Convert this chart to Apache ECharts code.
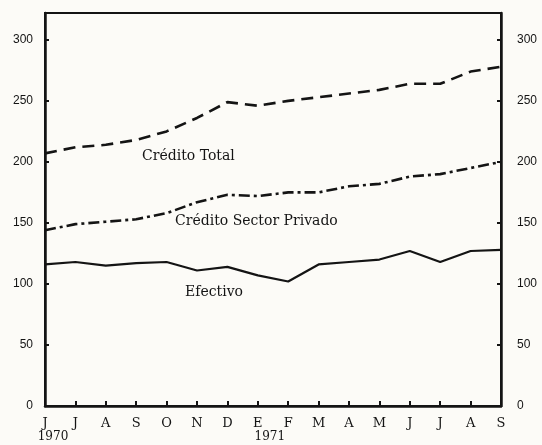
<!DOCTYPE html>
<html>
<head>
<meta charset="utf-8">
<script src="https://cdn.jsdelivr.net/npm/echarts@6/dist/echarts.min.js"></script>
<style>
  html, body { margin: 0; padding: 0; background: #fcfbf7; }
  #chart { width: 542px; height: 445px; }
</style>
</head>
<body>
<div id="chart"></div>
<script>
// meses junio 1970 - septiembre 1971
var months = ['Jun70', 'Jul70', 'Ago70', 'Sep70', 'Oct70', 'Nov70', 'Dic70', 'Ene71',
              'Feb71', 'Mar71', 'Abr71', 'May71', 'Jun71', 'Jul71', 'Ago71', 'Sep71'];
var monthLabels = ['J', 'J', 'A', 'S', 'O', 'N', 'D', 'E', 'F', 'M', 'A', 'M', 'J', 'J', 'A', 'S'];
var yearLabels = ['1970', '', '', '', '', '', '', '1971', '', '', '', '', '', '', '', ''];
var yTicks = [0, 50, 100, 150, 200, 250, 300];

var creditoTotal = [207, 212, 214, 218, 225, 236, 249, 246, 250, 253, 256, 259, 264, 264, 274, 278];
var creditoPrivado = [144, 149, 151, 153, 158, 167, 173, 172, 175, 175, 180, 182, 188, 190, 195, 200];
var efectivo = [116, 118, 115, 117, 118, 111, 114, 107, 102, 116, 118, 120, 127, 118, 127, 128];

var chart = echarts.init(document.getElementById('chart'));

var ink = '#141414';
var serif = '"DejaVu Serif"';

function yLabel(v) {
    return yTicks.indexOf(v) >= 0 ? String(v) : '';
}

var option = {
    backgroundColor: '#fcfbf7',
    animation: false,
    grid: {
        left: 45, right: 41, top: 13, bottom: 39,
        show: true,
        borderColor: ink,
        borderWidth: 2,
        backgroundColor: 'transparent'
    },
    xAxis: {
        type: 'category',
        data: months,
        boundaryGap: false,
        axisLine: { lineStyle: { color: ink, width: 2.5 } },
        axisTick: { inside: true, length: 5, interval: 0, lineStyle: { color: ink, width: 2 } },
        splitLine: { show: false },
        axisLabel: {
            interval: 0,
            margin: 11,
            color: ink,
            fontFamily: 'DejaVu Serif',
            fontSize: 13,
            lineHeight: 13,
            formatter: function (v, i) {
                var y = yearLabels[i];
                if (!y) return monthLabels[i];
                return monthLabels[i] + '\n{' + (i === 0 ? 'ya' : 'yb') + '|' + y + '}';
            },
            rich: {
                ya: { fontFamily: 'DejaVu Serif', fontSize: 12, lineHeight: 13, color: ink, padding: [0, 0, 0, 16] },
                yb: { fontFamily: 'DejaVu Serif', fontSize: 12, lineHeight: 13, color: ink, padding: [0, 0, 0, 24] }
            }
        }
    },
    yAxis: [
        {
            type: 'value',
            min: 0, max: 322, interval: 50,
            axisLine: { show: true, lineStyle: { color: ink, width: 2.5 } },
            axisTick: { show: true, inside: true, length: 4, lineStyle: { color: ink, width: 2 } },
            splitLine: { show: false },
            axisLabel: { margin: 12, color: ink, fontFamily: 'Liberation Sans', fontSize: 12, formatter: yLabel }
        },
        {
            type: 'value',
            position: 'right',
            min: 0, max: 322, interval: 50,
            axisLine: { show: true, lineStyle: { color: ink, width: 2.5 } },
            axisTick: { show: true, inside: true, length: 4, lineStyle: { color: ink, width: 2 } },
            splitLine: { show: false },
            axisLabel: { margin: 16, color: ink, fontFamily: 'Liberation Sans', fontSize: 12, formatter: yLabel }
        }
    ],
    series: [
        {
            name: 'Crédito Total',
            type: 'line',
            data: creditoTotal,
            symbol: 'none',
            lineStyle: { color: ink, width: 2.6, type: [12, 7] }
        },
        {
            name: 'Crédito Sector Privado',
            type: 'line',
            data: creditoPrivado,
            symbol: 'none',
            lineStyle: { color: ink, width: 2.6, type: [11, 4, 3, 4] }
        },
        {
            name: 'Efectivo',
            type: 'line',
            data: efectivo,
            symbol: 'none',
            lineStyle: { color: ink, width: 2.2 }
        }
    ],
    graphic: [
        { type: 'text', left: 142, top: 149, style: { text: 'Crédito Total', fill: ink, font: '14px ' + serif } },
        { type: 'text', left: 175, top: 214, style: { text: 'Crédito Sector Privado', fill: ink, font: '14px ' + serif } },
        { type: 'text', left: 185, top: 285, style: { text: 'Efectivo', fill: ink, font: '14px ' + serif } }
    ]
};

chart.setOption(option);
</script>
</body>
</html>
